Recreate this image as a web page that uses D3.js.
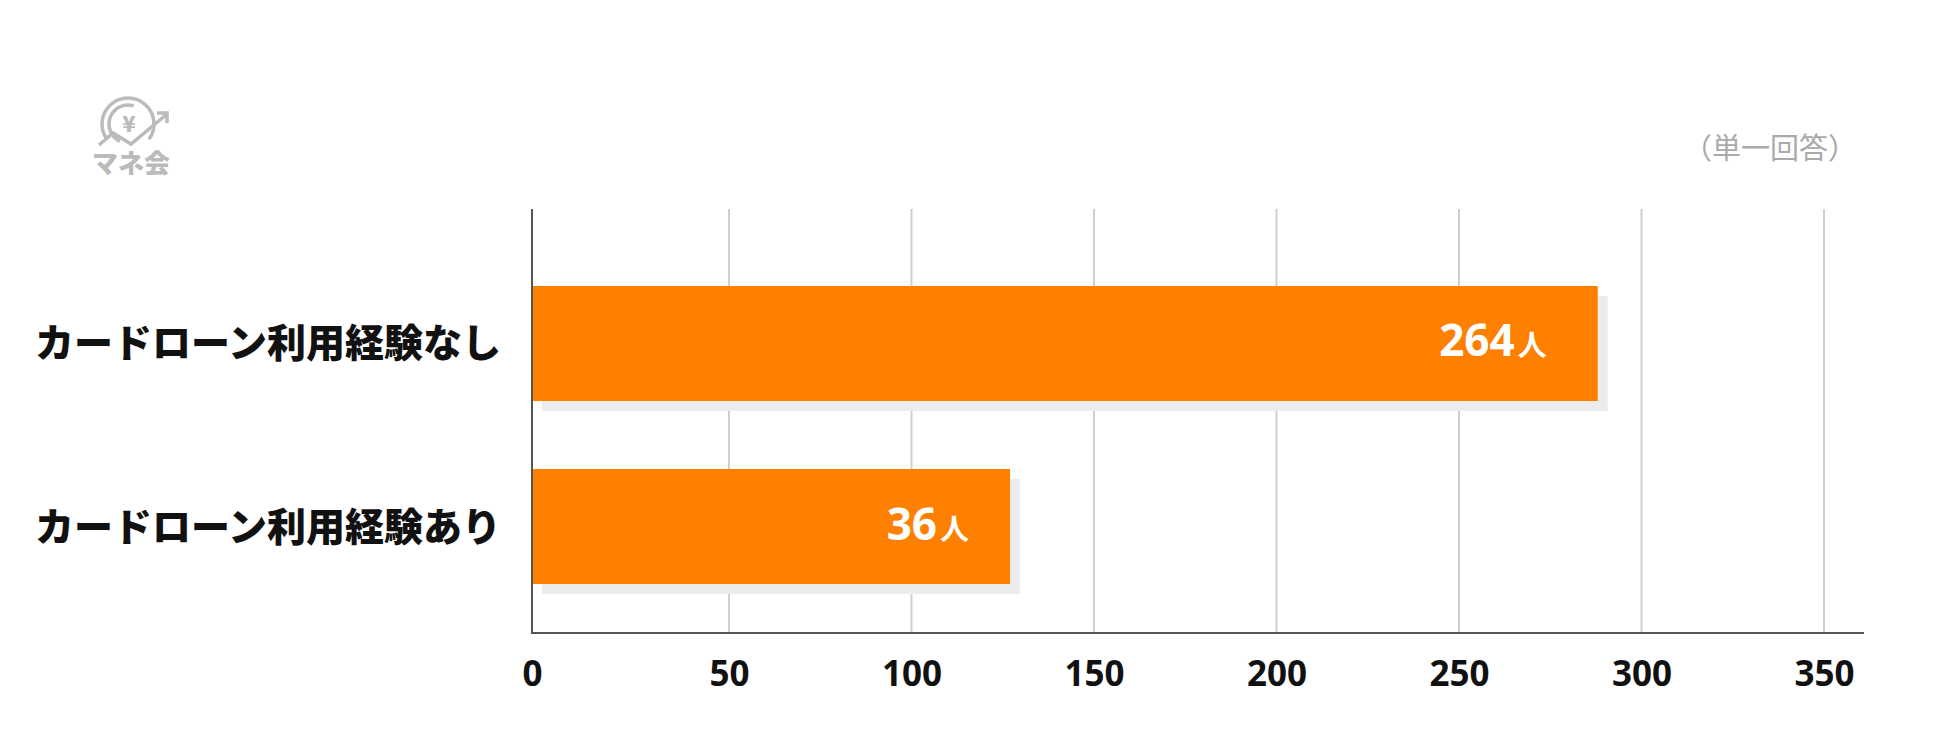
<!DOCTYPE html>
<html><head><meta charset="utf-8">
<script src="https://cdn.jsdelivr.net/npm/d3@7"></script>
<style>body{margin:0;background:#fff;}svg{display:block;}</style>
</head><body>
<script>
const categories = ["カードローン利用経験なし", "カードローン利用経験あり"];
const counts = [264, 36];            // value labels shown on the bars
const barExtent = [288, 127];        // bar lengths as drawn against the axis
const tickValues = [0, 50, 100, 150, 200, 250, 300, 350];
const unit = "人";
const note = "（単一回答）";

const W = 1950, H = 731;
const svg = d3.select("body").append("svg").attr("width", W).attr("height", H);

const x = d3.scaleLinear().domain([0, 50, 350]).range([532, 729, 1824]);
const y = d3.scaleBand().domain(categories).range([286, 584]).paddingInner(0.3716).paddingOuter(0);

const jp = "'Noto Sans CJK JP', 'Noto Sans', sans-serif";
const num = "'Open Sans', 'Noto Sans', sans-serif";

// gridlines
svg.append("g").selectAll("line").data(tickValues.filter(d => d > 0)).join("line")
  .attr("x1", d => x(d)).attr("x2", d => x(d)).attr("y1", 209).attr("y2", 633)
  .attr("stroke", "#cfcfcf").attr("stroke-width", 2);

// shadows
svg.append("g").selectAll("rect").data(categories).join("rect")
  .attr("x", x(0) + 10).attr("y", d => y(d) + 10)
  .attr("width", (d, i) => x(barExtent[i]) - x(0))
  .attr("height", y.bandwidth()).attr("fill", "#ececec");

// bars
svg.append("g").selectAll("rect").data(categories).join("rect")
  .attr("x", x(0)).attr("y", d => y(d))
  .attr("width", (d, i) => x(barExtent[i]) - x(0))
  .attr("height", y.bandwidth()).attr("fill", "#ff7f00");

// axes lines
svg.append("line").attr("x1", 532).attr("x2", 532).attr("y1", 209).attr("y2", 634)
  .attr("stroke", "#555").attr("stroke-width", 2);
svg.append("line").attr("x1", 531).attr("x2", 1864).attr("y1", 633).attr("y2", 633)
  .attr("stroke", "#555").attr("stroke-width", 2);

// x tick labels
const xAxis = d3.axisBottom(x).tickValues(tickValues).tickSize(0).tickPadding(0).tickFormat(d3.format("d"));
const gx = svg.append("g").attr("transform", "translate(0,686)").call(xAxis);
gx.select(".domain").remove();
gx.selectAll("text").attr("dy", 0).attr("font-family", num).attr("font-weight", 700)
  .attr("font-size", 35).attr("fill", "#111");

// category labels
svg.append("g").selectAll("text").data(categories).join("text")
  .attr("x", 501).attr("y", d => y(d) + y.bandwidth() / 2 + 14)
  .attr("text-anchor", "end").attr("font-family", jp).attr("font-weight", 900)
  .attr("font-size", 39).attr("fill", "#111").text(d => d);

// value labels
const vl = svg.append("g").selectAll("text").data(categories).join("text")
  .attr("x", (d, i) => x(barExtent[i]) - (i === 0 ? 51 : 41))
  .attr("y", d => y(d) + y.bandwidth() / 2 + 13)
  .attr("text-anchor", "end").attr("fill", "#fff");
vl.append("tspan").attr("font-family", num).attr("font-weight", 700).attr("font-size", 44).text((d, i) => counts[i]);
vl.append("tspan").attr("font-family", jp).attr("font-weight", 700).attr("font-size", 29).attr("dx", 3).text(unit);

// note
svg.append("text").attr("x", 1683).attr("y", 159).attr("text-anchor", "start")
  .attr("font-family", jp).attr("font-size", 29).attr("fill", "#aaa").text(note);

// logo
const logo = svg.append("g").attr("fill", "none").attr("stroke", "#bbb").attr("stroke-width", 3.5);
logo.append("path").attr("d", d3.arc()({innerRadius: 26, outerRadius: 26, startAngle: -2.2, endAngle: 2.2}))
  .attr("transform", "translate(128,124)");
logo.append("path").attr("d", d3.arc()({innerRadius: 19, outerRadius: 19, startAngle: -2.7, endAngle: 0.3}))
  .attr("transform", "translate(128,124)").attr("stroke-dasharray", "16 6");
logo.append("path").attr("d", "M99,145 L113,133 L131,144 L167,114");
logo.append("path").attr("d", "M157,113 L167,113 L167,123");
svg.append("text").attr("x", 129).attr("y", 132).attr("text-anchor", "middle")
  .attr("font-family", jp).attr("font-weight", 900).attr("font-size", 22).attr("fill", "#bbb").text("¥");
svg.append("text").attr("x", 131).attr("y", 173).attr("text-anchor", "middle")
  .attr("font-family", jp).attr("font-weight", 900).attr("font-size", 26).attr("fill", "#bbb").text("マネ会");
</script>
</body></html>
